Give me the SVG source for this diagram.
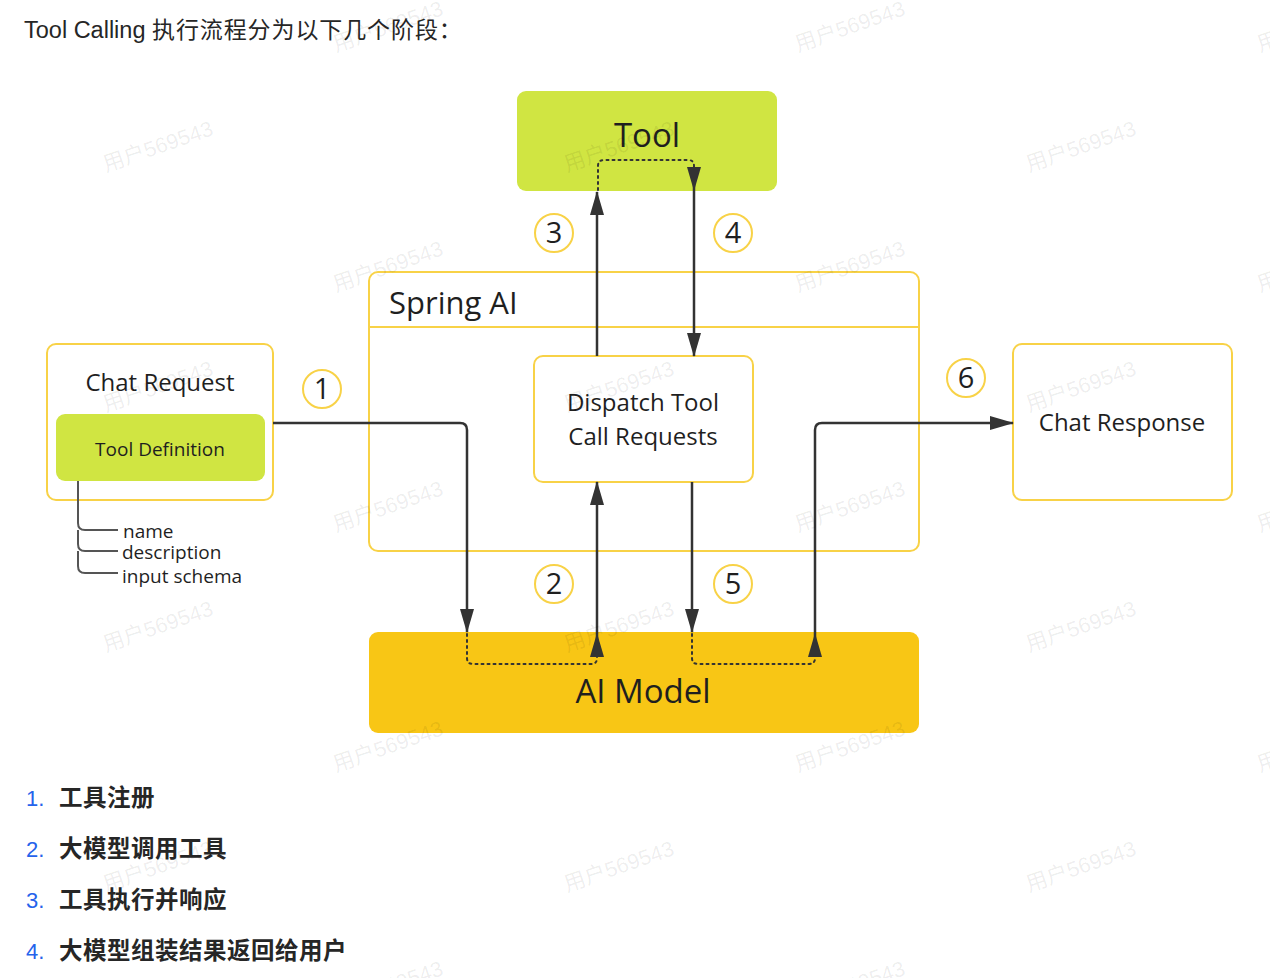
<svg xmlns="http://www.w3.org/2000/svg" width="1270" height="978" viewBox="0 0 1270 978">
<defs>
<style>
.wm{font-family:"Liberation Sans","Noto Sans CJK SC",sans-serif;font-size:21.5px;fill:#000;fill-opacity:0.075}
.dg{font-family:"Open Sans","Noto Sans",sans-serif;fill:#1f1f1f}
.box{fill:#fff;stroke:#f8d247;stroke-width:2}
.num{fill:#fff;stroke:#f8d247;stroke-width:2}
.numt{font-family:"Open Sans","Noto Sans",sans-serif;font-size:29px;fill:#1f1f1f;text-anchor:middle}
.ln{fill:none;stroke:#333;stroke-width:2.5}
.dot{fill:none;stroke:#333;stroke-width:2;stroke-dasharray:2 4;stroke-linecap:round}
.tree{fill:none;stroke:#555;stroke-width:2}
.hd{font-family:"Liberation Sans","Noto Sans CJK SC",sans-serif;font-size:23.5px;fill:#262626}
.li{font-family:"Liberation Sans","Noto Sans CJK SC",sans-serif;font-size:22px;fill:#2563eb}
.lt{font-family:"Noto Sans CJK SC","Liberation Sans",sans-serif;font-size:23.5px;font-weight:bold;fill:#262626;letter-spacing:0.5px}
</style>
<marker id="ah" viewBox="0 0 24 14" refX="23" refY="7" markerWidth="24" markerHeight="14" markerUnits="userSpaceOnUse" orient="auto">
<path d="M0,0 L24,7 L0,14 Z" fill="#333"/>
</marker>
</defs>
<rect width="1270" height="978" fill="#fff"/>

<text class="hd" x="24" y="38">Tool Calling <tspan letter-spacing="0.9" font-size="23">执行流程分为以下几个阶段：</tspan></text>

<g id="spring-ai">
<rect class="box" x="369" y="272" width="550" height="279" rx="9"/>
<line x1="369" y1="327" x2="919" y2="327" stroke="#f8d247" stroke-width="2"/>
<text class="dg" x="389" y="314" font-size="31">Spring AI</text>
</g>

<g id="tool">
<rect x="517" y="91" width="260" height="100" rx="9" fill="#d0e542"/>
<text class="dg" x="647" y="147" font-size="33" text-anchor="middle">Tool</text>
</g>

<g id="ai-model">
<rect x="369" y="632" width="550" height="101" rx="9" fill="#f8c615"/>
<text class="dg" x="643" y="703" font-size="33" text-anchor="middle">AI Model</text>
</g>

<g id="chat-request">
<rect class="box" x="47" y="344" width="226" height="156" rx="9"/>
<text class="dg" x="160" y="391" font-size="24" text-anchor="middle">Chat Request</text>
</g>

<g id="tool-definition">
<rect x="56" y="414" width="209" height="67" rx="9" fill="#d0e542"/>
<text class="dg" x="160" y="456" font-size="19" text-anchor="middle">Tool Definition</text>
<path class="tree" d="M78,481 V523 Q78,530 85,530 H118 M78,530 V544 Q78,551 85,551 H118 M78,551 V566 Q78,573 85,573 H118"/>
<text class="dg" x="123" y="538" font-size="19">name</text>
<text class="dg" x="122" y="559" font-size="19">description</text>
<text class="dg" x="122" y="583" font-size="19">input schema</text>
</g>

<g id="dispatch">
<rect class="box" x="534" y="356" width="219" height="126" rx="9"/>
<text class="dg" x="643" y="411" font-size="24" text-anchor="middle">Dispatch Tool</text>
<text class="dg" x="643" y="445" font-size="24" text-anchor="middle">Call Requests</text>
</g>

<g id="chat-response">
<rect class="box" x="1013" y="344" width="219" height="156" rx="9"/>
<text class="dg" x="1122" y="431" font-size="24" text-anchor="middle">Chat Response</text>
</g>

<g id="connectors">
<path class="ln" d="M273,423 H460 Q467,423 467,430 V632" marker-end="url(#ah)"/>
<path class="dot" d="M467,634 V658 Q467,664 473,664 H591 Q597,664 597,658 V656"/>
<path class="ln" d="M597,657 V634" marker-end="url(#ah)"/>
<path class="ln" d="M597,634 V482" marker-end="url(#ah)"/>
<path class="ln" d="M597,356 V192" marker-end="url(#ah)"/>
<path class="dot" d="M598,190 V166 Q598,160 604,160 H688 Q694,160 694,166 V168"/>
<path class="ln" d="M694,167 V190" marker-end="url(#ah)"/>
<path class="ln" d="M694,190 V356" marker-end="url(#ah)"/>
<path class="ln" d="M692,482 V632" marker-end="url(#ah)"/>
<path class="dot" d="M692,634 V658 Q692,664 698,664 H809 Q815,664 815,658 V656"/>
<path class="ln" d="M815,657 V634" marker-end="url(#ah)"/>
<path class="ln" d="M815,634 V430 Q815,423 822,423 H1013" marker-end="url(#ah)"/>
</g>

<g id="num1"><circle class="num" cx="322" cy="389" r="19"/><text class="numt" x="322" y="399">1</text></g>
<g id="num2"><circle class="num" cx="554" cy="584" r="19"/><text class="numt" x="554" y="594">2</text></g>
<g id="num3"><circle class="num" cx="554" cy="233" r="19"/><text class="numt" x="554" y="243">3</text></g>
<g id="num4"><circle class="num" cx="733" cy="233" r="19"/><text class="numt" x="733" y="243">4</text></g>
<g id="num5"><circle class="num" cx="733" cy="584" r="19"/><text class="numt" x="733" y="594">5</text></g>
<g id="num6"><circle class="num" cx="966" cy="378" r="19"/><text class="numt" x="966" y="388">6</text></g>

<g id="list">
<text class="li" x="26" y="806">1.</text><text class="lt" x="59" y="806">工具注册</text>
<text class="li" x="26" y="857">2.</text><text class="lt" x="59" y="857">大模型调用工具</text>
<text class="li" x="26" y="908">3.</text><text class="lt" x="59" y="908">工具执行并响应</text>
<text class="li" x="26" y="959">4.</text><text class="lt" x="59" y="959">大模型组装结果返回给用户</text>
</g>

<g id="watermarks">
<text class="wm" transform="translate(336,52) rotate(-19)">用户569543</text>
<text class="wm" transform="translate(798,52) rotate(-19)">用户569543</text>
<text class="wm" transform="translate(1260,52) rotate(-19)">用户569543</text>
<text class="wm" transform="translate(106,172) rotate(-19)">用户569543</text>
<text class="wm" transform="translate(567,172) rotate(-19)">用户569543</text>
<text class="wm" transform="translate(1029,172) rotate(-19)">用户569543</text>
<text class="wm" transform="translate(336,292) rotate(-19)">用户569543</text>
<text class="wm" transform="translate(798,292) rotate(-19)">用户569543</text>
<text class="wm" transform="translate(1260,292) rotate(-19)">用户569543</text>
<text class="wm" transform="translate(106,412) rotate(-19)">用户569543</text>
<text class="wm" transform="translate(567,412) rotate(-19)">用户569543</text>
<text class="wm" transform="translate(1029,412) rotate(-19)">用户569543</text>
<text class="wm" transform="translate(336,532) rotate(-19)">用户569543</text>
<text class="wm" transform="translate(798,532) rotate(-19)">用户569543</text>
<text class="wm" transform="translate(1260,532) rotate(-19)">用户569543</text>
<text class="wm" transform="translate(106,652) rotate(-19)">用户569543</text>
<text class="wm" transform="translate(567,652) rotate(-19)">用户569543</text>
<text class="wm" transform="translate(1029,652) rotate(-19)">用户569543</text>
<text class="wm" transform="translate(336,772) rotate(-19)">用户569543</text>
<text class="wm" transform="translate(798,772) rotate(-19)">用户569543</text>
<text class="wm" transform="translate(1260,772) rotate(-19)">用户569543</text>
<text class="wm" transform="translate(106,892) rotate(-19)">用户569543</text>
<text class="wm" transform="translate(567,892) rotate(-19)">用户569543</text>
<text class="wm" transform="translate(1029,892) rotate(-19)">用户569543</text>
<text class="wm" transform="translate(336,1012) rotate(-19)">用户569543</text>
<text class="wm" transform="translate(798,1012) rotate(-19)">用户569543</text>
</g>
</svg>
